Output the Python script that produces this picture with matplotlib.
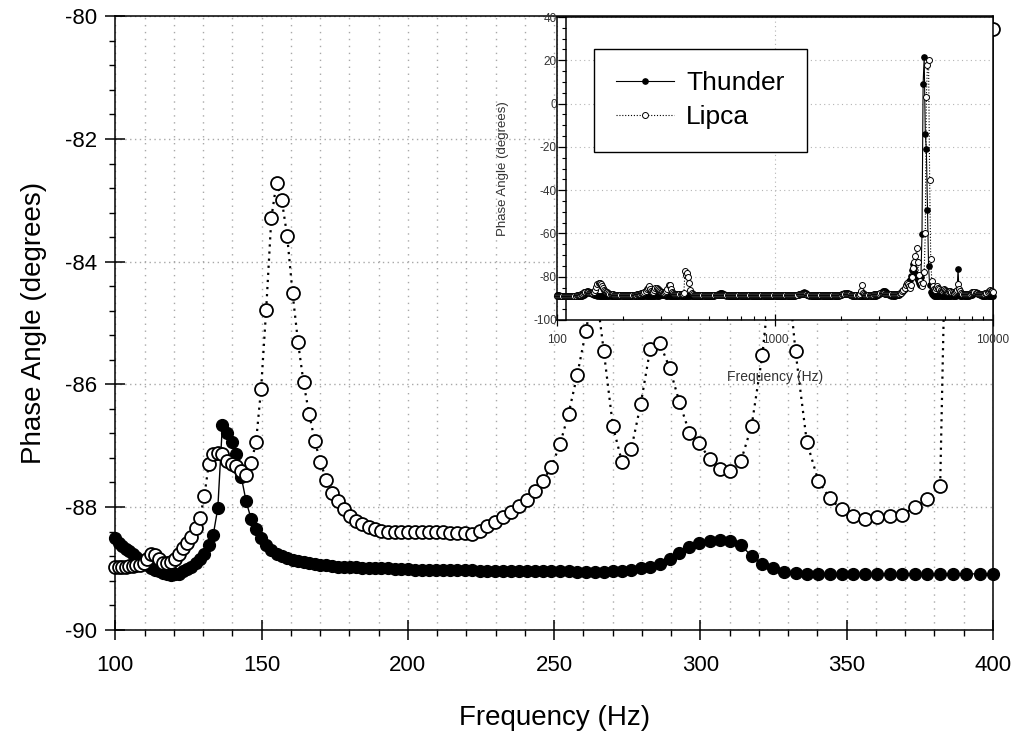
import matplotlib.pyplot as plt
import numpy as np
from matplotlib.ticker import MultipleLocator, FixedLocator, FuncFormatter
from matplotlib.transforms import Bbox, TransformedBbox

plt.rcParams['font.family'] = ['Liberation Sans', 'DejaVu Sans']
plt.rcParams['axes.unicode_minus'] = False

# swept-sine frequencies (Hz), log spaced: main plot is the 100-400 Hz part,
# the inset shows the same sweep continued up to 10 kHz
freq_main = np.geomspace(100, 400, 121)
freq_high = np.geomspace(400, 10000, 280)[1:]

# phase angle (degrees), 100-400 Hz
thunder_main = [
    -88.51, -88.58, -88.63, -88.68, -88.72, -88.77, -88.82, -88.86, -88.90, -88.95,
    -88.99, -89.03, -89.05, -89.08, -89.10, -89.11, -89.10, -89.09, -89.05, -89.01,
    -88.97, -88.92, -88.84, -88.76, -88.62, -88.45, -88.02, -86.66, -86.79, -86.94,
    -87.14, -87.51, -87.91, -88.19, -88.36, -88.51, -88.62, -88.70, -88.76, -88.80,
    -88.83, -88.86, -88.88, -88.90, -88.92, -88.93, -88.94, -88.95, -88.96, -88.97,
    -88.97, -88.98, -88.98, -88.99, -88.99, -89.00, -89.00, -89.00, -89.01, -89.01,
    -89.01, -89.02, -89.02, -89.02, -89.02, -89.03, -89.03, -89.03, -89.03, -89.03,
    -89.04, -89.04, -89.04, -89.04, -89.04, -89.04, -89.05, -89.05, -89.05, -89.05,
    -89.05, -89.05, -89.06, -89.06, -89.06, -89.06, -89.05, -89.04, -89.02, -89.00,
    -88.97, -88.93, -88.85, -88.75, -88.65, -88.59, -88.56, -88.54, -88.55, -88.62,
    -88.80, -88.93, -89.00, -89.06, -89.08, -89.09, -89.09, -89.09, -89.09, -89.09,
    -89.09, -89.09, -89.09, -89.09, -89.09, -89.09, -89.09, -89.09, -89.09, -89.09,
    -89.09,
]
lipca_main = [
    -88.97, -88.97, -88.97, -88.97, -88.96, -88.96, -88.95, -88.94, -88.92, -88.85,
    -88.77, -88.78, -88.85, -88.91, -88.92, -88.90, -88.84, -88.76, -88.67, -88.59,
    -88.49, -88.35, -88.18, -87.82, -87.30, -87.14, -87.12, -87.14, -87.25, -87.30,
    -87.33, -87.41, -87.48, -87.29, -86.94, -86.07, -84.78, -83.29, -82.71, -83.00,
    -83.58, -84.51, -85.31, -85.97, -86.48, -86.92, -87.27, -87.56, -87.77, -87.91,
    -88.04, -88.15, -88.23, -88.28, -88.33, -88.36, -88.39, -88.40, -88.41, -88.41,
    -88.41, -88.41, -88.41, -88.41, -88.41, -88.41, -88.42, -88.42, -88.43, -88.44,
    -88.39, -88.31, -88.24, -88.16, -88.08, -87.99, -87.88, -87.74, -87.57, -87.34,
    -86.98, -86.48, -85.85, -85.13, -84.30, -85.46, -86.68, -87.27, -87.05, -86.32,
    -85.42, -85.33, -85.73, -86.29, -86.79, -86.96, -87.22, -87.38, -87.41, -87.25,
    -86.68, -85.52, -83.80, -83.60, -85.46, -86.94, -87.57, -87.86, -88.04, -88.14,
    -88.19, -88.16, -88.15, -88.13, -88.00, -87.87, -87.66, -77.50, -79.00, -78.30,
    -80.20,
]

# phase angle (degrees), 400 Hz - 10 kHz (inset only)
thunder_high = [
    -89.09, -89.09, -89.08, -89.08, -89.08, -89.07, -89.07, -89.06, -89.06, -89.05,
    -89.05, -89.04, -89.04, -89.03, -89.02, -89.01, -89.00, -88.98, -88.96, -88.94,
    -88.92, -88.90, -88.85, -88.78, -88.65, -88.45, -88.20, -87.95, -87.75, -87.65,
    -87.70, -87.90, -88.20, -88.50, -88.75, -88.90, -88.97, -89.00, -89.00, -89.00,
    -89.00, -89.00, -88.99, -88.99, -88.99, -88.98, -88.98, -88.98, -88.98, -88.97,
    -88.97, -88.97, -88.97, -88.96, -88.96, -88.96, -88.96, -88.95, -88.95, -88.95,
    -88.95, -88.94, -88.94, -88.94, -88.94, -88.93, -88.93, -88.93, -88.93, -88.92,
    -88.92, -88.92, -88.92, -88.91, -88.91, -88.91, -88.90, -88.90, -88.90, -88.90,
    -88.90, -88.89, -88.89, -88.89, -88.89, -88.88, -88.88, -88.88, -88.88, -88.87,
    -88.87, -88.86, -88.85, -88.84, -88.82, -88.80, -88.77, -88.72, -88.65, -88.55,
    -88.40, -88.20, -87.95, -87.65, -87.40, -87.25, -87.35, -87.70, -88.15, -88.50,
    -88.70, -88.80, -88.85, -88.87, -88.88, -88.88, -88.88, -88.88, -88.87, -88.87,
    -88.87, -88.87, -88.86, -88.86, -88.86, -88.86, -88.85, -88.85, -88.85, -88.85,
    -88.84, -88.84, -88.84, -88.83, -88.82, -88.80, -88.77, -88.72, -88.62, -88.45,
    -88.20, -87.90, -87.65, -87.50, -87.50, -87.65, -87.95, -88.30, -88.55, -88.70,
    -88.78, -88.82, -88.84, -88.85, -88.85, -88.85, -88.84, -88.84, -88.84, -88.83,
    -88.83, -88.83, -88.82, -88.82, -88.82, -88.81, -88.81, -88.80, -88.79, -88.77,
    -88.74, -88.68, -88.55, -88.30, -87.95, -87.50, -87.00, -86.65, -86.50, -86.60,
    -87.00, -87.55, -88.05, -88.40, -88.60, -88.70, -88.72, -88.72, -88.70, -88.66,
    -88.60, -88.50, -88.35, -88.10, -87.75, -87.20, -86.50, -85.70, -84.80, -83.80,
    -82.90, -82.00, -81.40, -79.50, -77.00, -74.00, -76.00, -78.30, -80.50, -81.50,
    -83.00, -84.00, -80.00, -60.40, 9.00, 21.50, -13.90, -21.20, -49.20, -75.20,
    -84.00, -87.00, -88.00, -88.50, -88.70, -88.80, -88.85, -88.85, -88.85, -88.85,
    -88.85, -88.84, -88.84, -88.84, -88.83, -88.83, -88.83, -88.82, -88.82, -88.82,
    -88.82, -88.81, -88.81, -88.80, -88.78, -88.60, -76.30, -88.50, -88.75, -88.80,
    -88.80, -88.80, -88.79, -88.79, -88.78, -88.76, -88.72, -88.65, -88.50, -88.25,
    -87.90, -87.50, -87.20, -87.30, -87.70, -88.15, -88.50, -88.65, -88.72, -88.75,
    -88.76, -88.77, -88.77, -88.77, -88.76, -88.76, -88.75, -88.75, -88.74,
]
lipca_high = [
    -82.90, -86.00, -87.40, -88.00, -88.25, -88.38, -88.45, -88.50, -88.52, -88.53,
    -88.54, -88.55, -88.55, -88.55, -88.55, -88.55, -88.55, -88.54, -88.54, -88.54,
    -88.53, -88.52, -88.50, -88.47, -88.43, -88.40, -88.38, -88.37, -88.38, -88.40,
    -88.43, -88.46, -88.49, -88.51, -88.52, -88.53, -88.53, -88.53, -88.53, -88.53,
    -88.53, -88.53, -88.53, -88.52, -88.52, -88.52, -88.52, -88.52, -88.51, -88.51,
    -88.51, -88.51, -88.51, -88.50, -88.50, -88.50, -88.50, -88.50, -88.49, -88.49,
    -88.49, -88.49, -88.48, -88.48, -88.48, -88.48, -88.47, -88.47, -88.47, -88.46,
    -88.46, -88.46, -88.45, -88.45, -88.45, -88.44, -88.44, -88.44, -88.43, -88.43,
    -88.43, -88.42, -88.42, -88.42, -88.41, -88.41, -88.40, -88.40, -88.40, -88.39,
    -88.39, -88.38, -88.38, -88.37, -88.36, -88.35, -88.33, -88.30, -88.27, -88.24,
    -88.20, -88.15, -88.10, -88.05, -88.02, -88.03, -88.08, -88.15, -88.22, -88.28,
    -88.32, -88.35, -88.36, -88.37, -88.37, -88.37, -88.36, -88.36, -88.36, -88.35,
    -88.35, -88.35, -88.34, -88.34, -88.34, -88.33, -88.33, -88.33, -88.32, -88.32,
    -88.32, -88.31, -88.31, -88.30, -88.30, -88.29, -88.28, -88.27, -88.25, -88.22,
    -88.18, -88.12, -88.05, -88.00, -88.00, -88.05, -88.12, -88.18, -88.22, -88.25,
    -88.27, -88.28, -88.28, -88.28, -88.27, -88.25, -88.10, -86.50, -83.70, -87.50,
    -88.10, -88.22, -88.25, -88.25, -88.25, -88.24, -88.24, -88.23, -88.22, -88.20,
    -88.17, -88.12, -88.05, -87.95, -87.85, -87.75, -87.70, -87.70, -87.75, -87.85,
    -87.95, -88.05, -88.12, -88.15, -88.15, -88.14, -88.12, -88.10, -88.07, -88.03,
    -87.98, -87.90, -87.78, -87.60, -87.30, -86.80, -86.00, -85.00, -83.60, -82.90,
    -83.50, -84.50, -85.00, -84.00, -80.00, -76.00, -73.00, -70.50, -66.80, -73.00,
    -79.00, -82.00, -83.50, -84.50, -83.00, -78.00, -59.80, 3.20, 18.00, 20.30,
    -35.10, -72.00, -82.20, -84.50, -85.50, -86.00, -85.00, -84.50, -85.00, -85.50,
    -86.00, -86.50, -86.00, -85.50, -86.00, -86.50, -87.00, -87.00, -86.50, -86.80,
    -87.00, -87.20, -87.30, -87.20, -86.80, -86.00, -83.40, -85.50, -86.80, -87.50,
    -87.80, -88.00, -88.10, -88.15, -88.15, -88.10, -88.00, -87.80, -87.50, -87.20,
    -87.00, -87.10, -87.40, -87.70, -87.90, -88.00, -88.05, -88.05, -88.00, -87.95,
    -87.85, -87.70, -87.40, -87.00, -86.50, -86.00, -86.40, -86.80, -87.00,
]

x_ticks = [100, 150, 200, 250, 300, 350, 400]
y_ticks = [-90, -88, -86, -84, -82, -80]
inset_x_ticks = [100, 1000, 10000]
inset_y_ticks = [-100, -80, -60, -40, -20, 0, 20, 40]

W, H = 1017, 738


def px_box(left, top, right, bottom):
    return [left / W, 1 - bottom / H, (right - left) / W, (bottom - top) / H]


fig = plt.figure(figsize=(W / 100, H / 100), dpi=100)

# ---- main plot ----
ax = fig.add_axes(px_box(115.3, 16.3, 993, 629.7))
ax.set_xlim(100, 400)
ax.set_ylim(-90, -80)

# markers may spill past the side/bottom spines, but not above the top
clip = TransformedBbox(Bbox([[-0.012, -0.02], [1.012, 1.0]]), ax.transAxes)

l1, = ax.plot(freq_main, thunder_main, '-', color='black', lw=1.0,
              marker='o', ms=8.5, mfc='black', mec='black', zorder=3)
l2, = ax.plot(freq_main, lipca_main, linestyle=(0, (1, 2.2)), color='black', lw=1.6,
              marker='o', ms=9.3, mfc='white', mec='black', mew=1.3, zorder=4)
for ln in (l1, l2):
    ln.set_clip_box(clip)

ax.xaxis.set_major_locator(FixedLocator(x_ticks))
ax.xaxis.set_minor_locator(MultipleLocator(10))
ax.yaxis.set_major_locator(FixedLocator(y_ticks))
ax.yaxis.set_minor_locator(MultipleLocator(0.4))

ax.set_axisbelow(True)
ax.grid(which='both', axis='x', color='#a8a8a8', linestyle=(0, (1, 4)), lw=1.0)
ax.grid(which='major', axis='y', color='#a8a8a8', linestyle=(0, (1, 2.5)), lw=1.0)

ax.tick_params(axis='x', which='major', direction='inout', length=14, width=1.1,
               labelsize=16, pad=11)
ax.tick_params(axis='x', which='minor', direction='out', length=4, width=1.0)
ax.tick_params(axis='y', which='major', direction='inout', length=14, width=1.1,
               labelsize=16, pad=6)
ax.tick_params(axis='y', which='minor', direction='out', length=4, width=1.0)
for s in ax.spines.values():
    s.set_linewidth(1.1)

ax.set_xlabel('Frequency (Hz)', fontsize=20)
ax.set_ylabel('Phase Angle (degrees)', fontsize=20)
ax.xaxis.set_label_coords(0.5, -0.122)
ax.yaxis.set_label_coords(-0.078, 0.5)

# ---- inset: full sweep on log axis ----
axin = fig.add_axes(px_box(557, 17, 993, 320))
axin.set_facecolor('white')
axin.set_xscale('log')
axin.set_xlim(100, 10000)
axin.set_ylim(-100, 40)

freq_all = np.concatenate([freq_main, freq_high])
thunder_all = thunder_main + thunder_high
lipca_all = lipca_main + lipca_high

axin.plot(freq_all, thunder_all, '-', color='black', lw=0.8, marker='o', ms=3.8,
          mfc='black', mec='black', label='Thunder', clip_on=False, zorder=3)
axin.plot(freq_all, lipca_all, linestyle=(0, (1, 1.6)), color='black', lw=0.8,
          marker='o', ms=4.3, mfc='white', mec='black', mew=0.7, label='Lipca',
          clip_on=False, zorder=4)

axin.xaxis.set_major_locator(FixedLocator(inset_x_ticks))
axin.xaxis.set_major_formatter(FuncFormatter(lambda v, p: f'{v:g}'))
axin.yaxis.set_major_locator(FixedLocator(inset_y_ticks))
axin.yaxis.set_minor_locator(MultipleLocator(5))

axin.set_axisbelow(True)
axin.grid(which='major', color='#b4b4b4', linestyle=(0, (1, 3)), lw=0.8)

axin.spines['left'].set_position(('axes', 9 / 436))
axin.plot([0, 0], [0, 1], transform=axin.transAxes, color='black', lw=1.1,
          clip_on=False)
for s in axin.spines.values():
    s.set_linewidth(1.1)

axin.tick_params(axis='both', labelsize=8.5, labelcolor='#333333')
axin.tick_params(axis='y', which='major', direction='out', length=6, width=0.9, pad=0.5)
axin.tick_params(axis='y', which='minor', direction='out', length=3, width=0.8)
axin.tick_params(axis='x', which='major', direction='inout', length=8, width=0.9, pad=6)
axin.tick_params(axis='x', which='minor', direction='in', length=3, width=0.8)

axin.set_xlabel('Frequency (Hz)', fontsize=10, color='#333333')
axin.set_ylabel('Phase Angle (degrees)', fontsize=9.5, color='#333333')
axin.xaxis.set_label_coords(0.5, -0.165)
axin.yaxis.set_label_coords(-0.11, 0.5)

leg = axin.legend(loc='upper left', bbox_to_anchor=(594 / W, 1 - 49 / H),
                  bbox_transform=fig.transFigure, fontsize=19, frameon=True,
                  fancybox=False, edgecolor='black', framealpha=1,
                  borderaxespad=0, borderpad=0.85, handlelength=2.2,
                  handletextpad=0.45, labelspacing=0.38)
leg.get_frame().set_linewidth(1.0)

fig.savefig('out.png', dpi=100)
